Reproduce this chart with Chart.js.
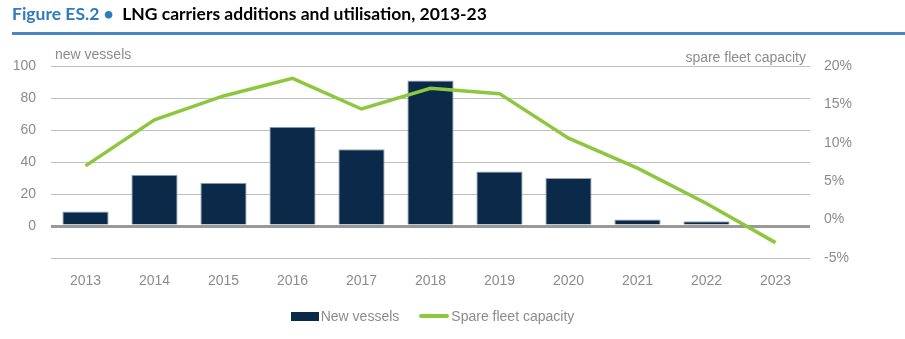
<!DOCTYPE html>
<html>
<head>
<meta charset="utf-8">
<script src="https://cdn.jsdelivr.net/npm/chart.js@4"></script>
<style>
  html, body { margin: 0; padding: 0; background: #fff; }
  #wrap { position: relative; width: 905px; height: 339px; overflow: hidden; }
  #title { position: absolute; left: 12px; top: 3px; font: bold 17.5px Lato, "Open Sans", sans-serif; color: #000; white-space: nowrap; }
  #title .fig { color: #2f7bbf; }
  #rule { position: absolute; left: 12px; right: 0; top: 32px; height: 3px; background: #4a86c5; }
  #chart { position: absolute; left: 0; top: 0; }
  #legend { position: absolute; left: 0; width: 865px; top: 308px; display: flex; justify-content: center; font: 14px "Liberation Sans", Arial, sans-serif; color: #8c8c8c; }
  #legend .item { display: flex; align-items: center; margin: 0 10px; }
  #legend .bar { width: 28px; height: 9px; background: #0b2a4a; margin-right: 2px; }
  #legend .line { width: 30px; height: 4px; background: #8dc63f; border-radius: 2px; margin-right: 2px; }
</style>
</head>
<body>
<div id="wrap">
  <canvas id="chart" width="905" height="339"></canvas>
  <div id="title"><span class="fig">Figure ES.2 •</span>&nbsp; LNG carriers additions and utilisation, 2013-23</div>
  <div id="rule"></div>
  <div id="legend">
    <div class="item"><span class="bar"></span>New vessels</div>
    <div class="item"><span class="line"></span>Spare fleet capacity</div>
  </div>
</div>
<script>
// Years on the horizontal axis
const years = ['2013', '2014', '2015', '2016', '2017', '2018', '2019', '2020', '2021', '2022', '2023'];
// LNG carriers added to the fleet each year (left axis)
const newVessels = [9, 32, 27, 62, 48, 91, 34, 30, 4, 3, null];
// Spare fleet capacity, per cent (right axis)
const spareCapacity = [7.0, 13.0, 16.1, 18.4, 14.4, 17.1, 16.4, 10.6, 6.7, 2.1, -3.0];
// Tick settings for the two value axes
const leftTicks = { min: -20, max: 100, step: 20 };
const rightTicks = { min: -5, max: 20, step: 5 };

const grey = '#8c8c8c';
const tickFont = { family: '"Liberation Sans", Arial, sans-serif', size: 14 };

// Writes the two axis captions above the plot area
const axisCaptions = {
  id: 'axisCaptions',
  afterDraw(chart) {
    const { ctx, chartArea } = chart;
    ctx.save();
    ctx.fillStyle = grey;
    ctx.font = '14px "Liberation Sans", Arial, sans-serif';
    ctx.textBaseline = 'alphabetic';
    ctx.textAlign = 'left';
    ctx.fillText('new vessels', chartArea.left + 4, chartArea.top - 7);
    ctx.textAlign = 'right';
    ctx.fillText('spare fleet capacity', chartArea.right - 4, chartArea.top - 4);
    ctx.restore();
  }
};

new Chart(document.getElementById('chart'), {
  data: {
    labels: years,
    datasets: [
      {
        type: 'line',
        label: 'Spare fleet capacity',
        data: spareCapacity,
        yAxisID: 'yRight',
        borderColor: '#8dc63f',
        borderWidth: 3.5,
        pointRadius: 0,
        tension: 0,
        order: 0
      },
      {
        type: 'bar',
        label: 'New vessels',
        data: newVessels,
        yAxisID: 'yLeft',
        backgroundColor: '#0b2a4a',
        borderColor: '#9aa6b2',
        borderWidth: 1,
        categoryPercentage: 0.67,
        barPercentage: 1,
        order: 1
      }
    ]
  },
  options: {
    responsive: false,
    animation: false,
    layout: { padding: { top: 66, bottom: 0, left: 0, right: 0 } },
    plugins: { legend: { display: false }, tooltip: { enabled: false } },
    scales: {
      x: {
        grid: { display: false, drawTicks: false },
        border: { display: false },
        ticks: { color: grey, font: tickFont, padding: 15, maxRotation: 0 },
        afterFit(scale) { scale.height = 81; }
      },
      yLeft: {
        position: 'left',
        min: leftTicks.min,
        max: leftTicks.max,
        border: { display: false },
        grid: {
          drawTicks: false,
          color: ctx => ctx.tick && ctx.tick.value === 0 ? '#999999' : '#c0c0c0',
          lineWidth: ctx => ctx.tick && ctx.tick.value === 0 ? 3 : 1
        },
        ticks: {
          stepSize: leftTicks.step,
          color: grey,
          font: tickFont,
          padding: 15,
          callback: v => (v < 0 ? '' : v)
        },
        afterFit(scale) { scale.width = 51; }
      },
      yRight: {
        position: 'right',
        min: rightTicks.min,
        max: rightTicks.max,
        border: { display: false },
        grid: { display: false, drawTicks: false },
        ticks: {
          stepSize: rightTicks.step,
          color: grey,
          font: tickFont,
          padding: 14,
          callback: v => v + '%'
        },
        afterFit(scale) { scale.width = 95; }
      }
    }
  },
  plugins: [axisCaptions]
});
</script>
</body>
</html>
